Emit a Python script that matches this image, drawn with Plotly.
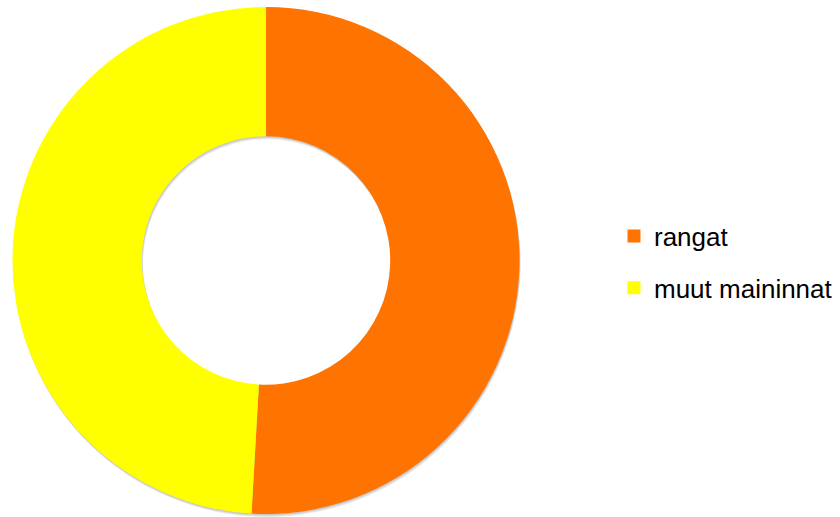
import plotly.graph_objects as go

labels = ["rangat", "muut maininnat"]
values = [28, 27]
colors = ["#FF7300", "#FFFF00"]

W, H = 840, 517
X0, X1, YT, YB = 12, 520, 7, 514  # donut box in px
HOLE = 0.49


def clamp(v):
    return min(1.0, max(0.0, v))


def dom(dx=0.0, dy=0.0):
    return dict(x=[clamp((X0 + dx) / W), clamp((X1 + dx) / W)],
                y=[clamp(1 - (YB + dy) / H), clamp(1 - (YT + dy) / H)])


fig = go.Figure()

# soft drop shadow (same data, grey translucent, offset down)
for k in [3, 2, 1]:
    fig.add_trace(go.Pie(
        labels=labels, values=values,
        marker=dict(colors=["rgba(0,0,0,0.08)"] * len(values), line=dict(width=0)),
        hole=HOLE, sort=False, direction="clockwise", rotation=0,
        textinfo="none", hoverinfo="skip", showlegend=False,
        domain=dom(k * 0.4, k),
    ))

fig.add_trace(go.Pie(
    labels=labels,
    values=values,
    marker=dict(colors=colors, line=dict(width=0)),
    hole=HOLE,
    sort=False,
    direction="clockwise",
    rotation=0,
    textinfo="none",
    hoverinfo="label+percent",
    showlegend=False,
    domain=dom(),
))

# legend entries (square swatches) from the same labels/colors
for lab, col in zip(labels, colors):
    fig.add_trace(go.Scatter(
        x=[None], y=[None], mode="markers", name=lab, legendgroup=lab,
        marker=dict(symbol="square", size=13, color=col),
        showlegend=True, hoverinfo="skip",
    ))

fig.update_layout(
    width=W, height=H,
    margin=dict(l=0, r=0, t=0, b=0),
    paper_bgcolor="white",
    plot_bgcolor="white",
    font=dict(family="Liberation Sans, Arial, sans-serif", color="black"),
    xaxis=dict(visible=False),
    yaxis=dict(visible=False),
    showlegend=True,
    legend=dict(
        x=614 / W, y=1 - 262 / H, xanchor="left", yanchor="middle",
        font=dict(size=26, color="black"),
        bgcolor="rgba(0,0,0,0)",
        traceorder="grouped",
        tracegroupgap=15,
        itemwidth=30,
    ),
)

fig.write_html("out.html")
